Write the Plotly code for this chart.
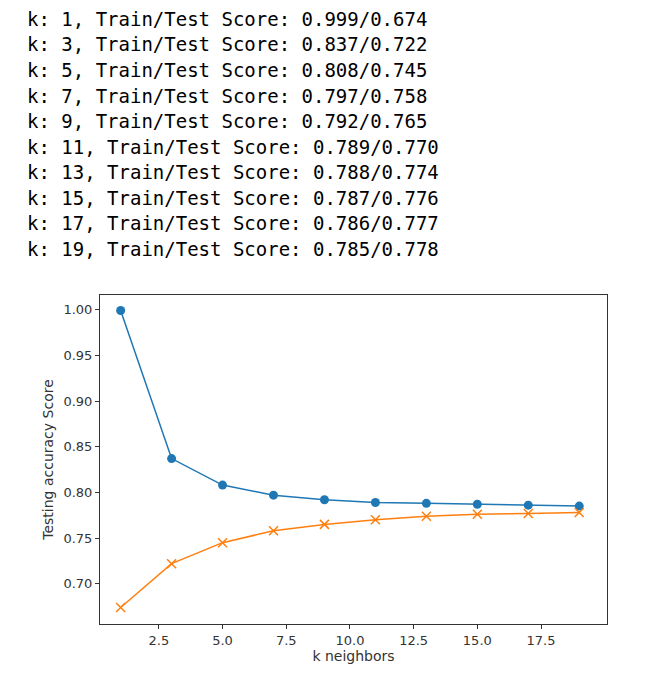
import plotly.graph_objects as go

k = [1, 3, 5, 7, 9, 11, 13, 15, 17, 19]
train = [0.999, 0.837, 0.808, 0.797, 0.792, 0.789, 0.788, 0.787, 0.786, 0.785]
test = [0.674, 0.722, 0.745, 0.758, 0.765, 0.770, 0.774, 0.776, 0.777, 0.778]

W, H = 652, 683
OFF = 8
L, R, T, B = 100 - OFF, 607 - OFF, 295 - OFF, 624 - OFF

fig = go.Figure()
fig.add_trace(go.Scatter(x=k, y=train, mode="lines+markers",
                         line=dict(color="#1f77b4", width=1.5),
                         marker=dict(symbol="circle", size=9, color="#1f77b4")))
fig.add_trace(go.Scatter(x=k, y=test, mode="lines+markers",
                         line=dict(color="#ff7f0e", width=1.5),
                         marker=dict(symbol="x-thin", size=9, line=dict(color="#ff7f0e", width=1.5), color="#ff7f0e")))

for i, (kk, a, b) in enumerate(zip(k, train, test)):
    py = 19 + i * 25.5 - OFF
    fig.add_annotation(text=f"k: {kk}, Train/Test Score: {a:.3f}/{b:.3f}",
                       xref="paper", yref="paper", x=(25 - OFF - L) / (R - L), y=(B - py) / (B - T),
                       xanchor="left", yanchor="middle", showarrow=False,
                       font=dict(family="DejaVu Sans Mono", size=19, color="#000"))

axis = dict(showline=True, mirror=True, linecolor="#333", linewidth=1, ticks="outside",
            ticklen=4, tickcolor="#333", showgrid=False, zeroline=False,
            tickfont=dict(family="DejaVu Sans", size=13, color="#333"))
fig.update_layout(
    width=W, height=H, margin=dict(l=L, r=W - R, t=T, b=H - B),
    paper_bgcolor="white", plot_bgcolor="white", showlegend=False,
    xaxis=dict(axis, range=[0.19, 20.09], tickvals=[2.5, 5, 7.5, 10, 12.5, 15, 17.5],
               ticktext=["2.5", "5.0", "7.5", "10.0", "12.5", "15.0", "17.5"],
               title=dict(text="k neighbors", font=dict(family="DejaVu Sans", size=14, color="#333"), standoff=4)),
    yaxis=dict(axis, range=[0.656, 1.016], tickvals=[0.70, 0.75, 0.80, 0.85, 0.90, 0.95, 1.00],
               tickformat=".2f",
               title=dict(text="Testing accuracy Score", font=dict(family="DejaVu Sans", size=14, color="#333"), standoff=6)),
)
fig.write_html("out.html")
